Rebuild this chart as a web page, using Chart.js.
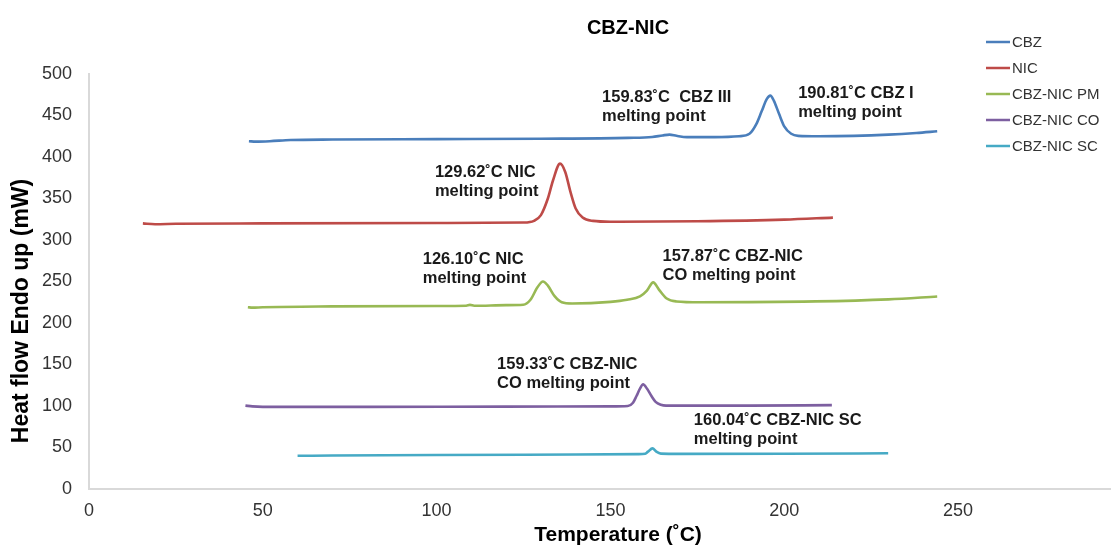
<!DOCTYPE html>
<html>
<head>
<meta charset="utf-8">
<script src="https://cdn.jsdelivr.net/npm/chart.js@4.4.1/dist/chart.umd.min.js"></script>
<style>
  html, body { margin: 0; padding: 0; background: #fff; }
  #wrap { width: 1111px; height: 547px; }
</style>
</head>
<body>
<div id="wrap"><canvas id="dsc"></canvas></div>
<script>
// DSC thermograms (temperature in ˚C, heat flow in mW)
const cbzT  = [46, 48, 52, 58, 70, 100, 130, 155, 162, 165, 167, 169, 172, 180, 187, 190, 192, 193.5, 195, 196, 197, 198.5, 200, 202, 204, 210, 220, 230, 238, 244];
const cbzHF = [419, 418.5, 419, 420.5, 421, 421.5, 422, 423, 424, 426, 427, 425.5, 424, 424, 425, 428, 440, 455, 470, 474, 468, 452, 437, 428, 425.5, 425, 425.5, 427, 429, 431];

const nicT  = [15.5, 19, 25, 50, 100, 125, 128, 130, 132, 133.5, 135.5, 137, 138.5, 140, 142, 145, 150, 175, 200, 214];
const nicHF = [320, 319, 319.5, 320, 320.5, 321, 323, 330, 350, 372, 392, 382, 358, 338, 327, 323, 322, 322.5, 324.5, 327];

const pmT  = [45.7, 47, 50, 70, 100, 108.5, 109.6, 110.8, 120, 124.9, 127, 129, 130.6, 132, 134, 136, 139, 150, 154.8, 158.5, 160.5, 162.3, 164, 166.2, 169, 175.8, 209, 230, 244];
const pmHF = [219, 218.5, 219, 220, 220.5, 220.8, 221.8, 220.8, 221.5, 222, 228, 243, 250, 245, 232, 225, 223.5, 225.5, 228, 232, 239, 249, 240, 229.5, 226, 225, 226, 228.5, 232];

const coT  = [45, 47, 50, 80, 120, 150, 155, 156.5, 157.5, 158.5, 159.4, 160.5, 161.8, 163, 164.5, 166, 190, 213.7];
const coHF = [100.5, 99.5, 99, 99, 99.3, 99.5, 100, 104, 112, 121, 126, 121, 112, 105, 101.5, 100.5, 100.5, 101];

const scT  = [60, 70, 100, 140, 158, 160, 160.8, 162.1, 163.2, 164.5, 170, 200, 229.9];
const scHF = [40, 40.3, 41, 41.5, 42, 42.5, 45, 49, 45, 42.6, 42.3, 42.5, 43];

const seriesNames = ['CBZ', 'NIC', 'CBZ-NIC PM', 'CBZ-NIC CO', 'CBZ-NIC SC'];
const seriesColors = ['#4a7ebb', '#be4b48', '#98b954', '#7d5fa0', '#46aac5'];

const xTicks = [0, 50, 100, 150, 200, 250];
const yTicks = [0, 50, 100, 150, 200, 250, 300, 350, 400, 450, 500];

const peakLabels = [
  { lines: ['159.83˚C  CBZ III', 'melting point'], t: 147.6, hf: 472 },
  { lines: ['190.81˚C CBZ I', 'melting point'], t: 204, hf: 476 },
  { lines: ['129.62˚C NIC', 'melting point'], t: 99.5, hf: 381 },
  { lines: ['126.10˚C NIC', 'melting point'], t: 96, hf: 276.5 },
  { lines: ['157.87˚C CBZ-NIC', 'CO melting point'], t: 165, hf: 280 },
  { lines: ['159.33˚C CBZ-NIC', 'CO melting point'], t: 117.4, hf: 150 },
  { lines: ['160.04˚C CBZ-NIC SC', 'melting point'], t: 174, hf: 83 }
];

const FONT = "'Liberation Sans', Arial, sans-serif";

function toPoints(xs, ys) {
  return xs.map((x, i) => ({ x: x, y: ys[i] }));
}

const series = [[cbzT, cbzHF], [nicT, nicHF], [pmT, pmHF], [coT, coHF], [scT, scHF]];

// titles, peak notes and legend are drawn by hand, like the original sheet
const textPlugin = {
  id: 'textPlugin',
  afterDraw(chart) {
    const ctx = chart.ctx;
    const xs = chart.scales.x;
    const ys = chart.scales.y;
    ctx.save();

    ctx.fillStyle = '#000';
    ctx.textAlign = 'center';
    ctx.textBaseline = 'middle';
    ctx.font = 'bold 20px ' + FONT;
    ctx.fillText('CBZ-NIC', 628, 28);

    ctx.font = 'bold 21px ' + FONT;
    ctx.fillText('Temperature (˚C)', 618, 535);
    ctx.save();
    ctx.translate(22, 311);
    ctx.rotate(-Math.PI / 2);
    ctx.font = 'bold 23px ' + FONT;
    ctx.fillText('Heat flow Endo up (mW)', 0, 0);
    ctx.restore();

    ctx.textAlign = 'left';
    ctx.fillStyle = '#1a1a1a';
    ctx.font = 'bold 16.5px ' + FONT;
    peakLabels.forEach(lab => {
      const px = xs.getPixelForValue(lab.t);
      const py = ys.getPixelForValue(lab.hf);
      lab.lines.forEach((ln, i) => ctx.fillText(ln, px, py + i * 19));
    });

    ctx.font = '15px ' + FONT;
    ctx.fillStyle = '#333';
    chart.data.datasets.forEach((ds, i) => {
      const y = 42 + i * 26;
      ctx.strokeStyle = ds.borderColor;
      ctx.lineWidth = 2.5;
      ctx.beginPath();
      ctx.moveTo(986, y);
      ctx.lineTo(1010, y);
      ctx.stroke();
      ctx.fillText(ds.label, 1012, y + 1);
    });
    ctx.restore();
  }
};

new Chart(document.getElementById('dsc'), {
  type: 'line',
  data: {
    datasets: series.map((s, i) => ({
      label: seriesNames[i],
      data: toPoints(s[0], s[1]),
      borderColor: seriesColors[i],
      backgroundColor: seriesColors[i],
      borderWidth: 2.6,
      pointRadius: 0,
      cubicInterpolationMode: 'monotone',
      fill: false
    }))
  },
  options: {
    responsive: true,
    maintainAspectRatio: false,
    animation: false,
    layout: { padding: { top: 74, right: 0, bottom: 0, left: 0 } },
    plugins: {
      legend: { display: false },
      title: { display: false },
      tooltip: { enabled: false }
    },
    scales: {
      x: {
        type: 'linear',
        min: 0,
        max: 294,
        afterFit(scale) { scale.height = 58 },
        afterBuildTicks(scale) { scale.ticks = xTicks.map(v => ({ value: v })) },
        grid: { display: false },
        border: { display: true, color: '#d9d9d9', width: 2 },
        ticks: { padding: 3, color: '#333', font: { family: FONT, size: 18 } }
      },
      y: {
        min: 0,
        max: 500,
        afterFit(scale) { scale.width = 89 },
        afterBuildTicks(scale) { scale.ticks = yTicks.map(v => ({ value: v })) },
        grid: { display: false },
        border: { display: true, color: '#d9d9d9', width: 2 },
        ticks: { padding: 9, color: '#333', font: { family: FONT, size: 18 } }
      }
    }
  },
  plugins: [textPlugin]
});
</script>
</body>
</html>
